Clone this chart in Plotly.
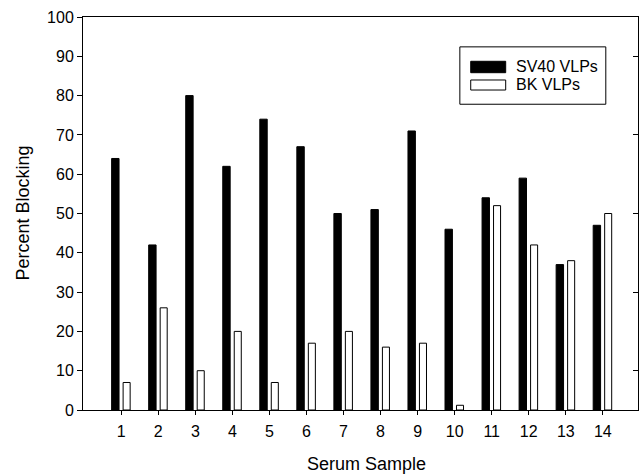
import plotly.graph_objects as go

samples = list(range(1, 15))
tick_labels = [str(s) for s in samples]
sv40_values = [64, 42, 80, 62, 74, 67, 50, 51, 71, 46, 54, 59, 37, 47]
bk_values = [7, 26, 10, 20, 7, 17, 20, 16, 17, 1.2, 52, 42, 38, 50]
series_names = ["SV40 VLPs", "BK VLPs"]

FONT = "Liberation Sans, Arial, sans-serif"

fig = go.Figure()
fig.add_trace(go.Bar(
    x=samples, y=sv40_values, name=series_names[0],
    width=0.2, offset=-0.26,
    marker=dict(color="black", line=dict(color="black", width=1)),
    showlegend=False,
))
fig.add_trace(go.Bar(
    x=samples, y=bk_values, name=series_names[1],
    width=0.19, offset=0.05,
    marker=dict(color="white", line=dict(color="black", width=1)),
    showlegend=False,
))
# invisible trace to create right axis
fig.add_trace(go.Scatter(x=[None], y=[None], yaxis="y2", showlegend=False))

fig.update_layout(
    width=641, height=476,
    margin=dict(l=83, r=3, t=17, b=66),
    paper_bgcolor="white", plot_bgcolor="white",
    font=dict(family=FONT, size=15, color="black"),
    barmode="overlay",
    xaxis=dict(
        range=[-0.033, 14.95], tickmode="array", tickvals=samples, ticktext=tick_labels,
        showgrid=False, zeroline=False, showline=True, linecolor="black", linewidth=1,
        mirror=True, ticks="outside", ticklen=4, tickcolor="black",
        tickfont=dict(size=16), ticklabelstandoff=3,
    ),
    yaxis=dict(
        range=[0, 100], dtick=10, showgrid=False, zeroline=False,
        showline=True, linecolor="black", linewidth=1,
        ticks="outside", ticklen=5, tickcolor="black",
        tickfont=dict(size=16),
    ),
    yaxis2=dict(
        range=[0, 100], overlaying="y", side="right", tick0=10, dtick=20,
        showticklabels=False, showgrid=False, zeroline=False,
        showline=True, linecolor="black", linewidth=1,
        ticks="inside", ticklen=5, tickcolor="black",
    ),
    showlegend=False,
)

# axis titles
fig.add_annotation(text="Percent Blocking", xref="paper", yref="paper", x=0, y=0.5,
                   xanchor="center", yanchor="middle", xshift=-61, textangle=-90,
                   showarrow=False, font=dict(size=18))
fig.add_annotation(text="Serum Sample", xref="paper", yref="paper", x=0.51, y=0,
                   xanchor="center", yanchor="middle", yshift=-54,
                   showarrow=False, font=dict(size=18))

# manual legend
fig.add_shape(type="rect", xref="paper", yref="paper", x0=0.679, x1=0.942, y0=0.778, y1=0.924,
              line=dict(color="black", width=1), fillcolor="white")
fig.add_shape(type="rect", xref="paper", yref="paper", x0=0.6986, x1=0.7616, y0=0.8583, y1=0.8873,
              line=dict(color="black", width=1), fillcolor="black")
fig.add_shape(type="rect", xref="paper", yref="paper", x0=0.6986, x1=0.7616, y0=0.8142, y1=0.8397,
              line=dict(color="black", width=1), fillcolor="white")
fig.add_annotation(text=series_names[0], xref="paper", yref="paper", x=0.7766, y=0.8728,
                   xanchor="left", yanchor="middle", showarrow=False, font=dict(size=16))
fig.add_annotation(text=series_names[1], xref="paper", yref="paper", x=0.7766, y=0.827,
                   xanchor="left", yanchor="middle", showarrow=False, font=dict(size=16))

fig.write_html("out.html")
